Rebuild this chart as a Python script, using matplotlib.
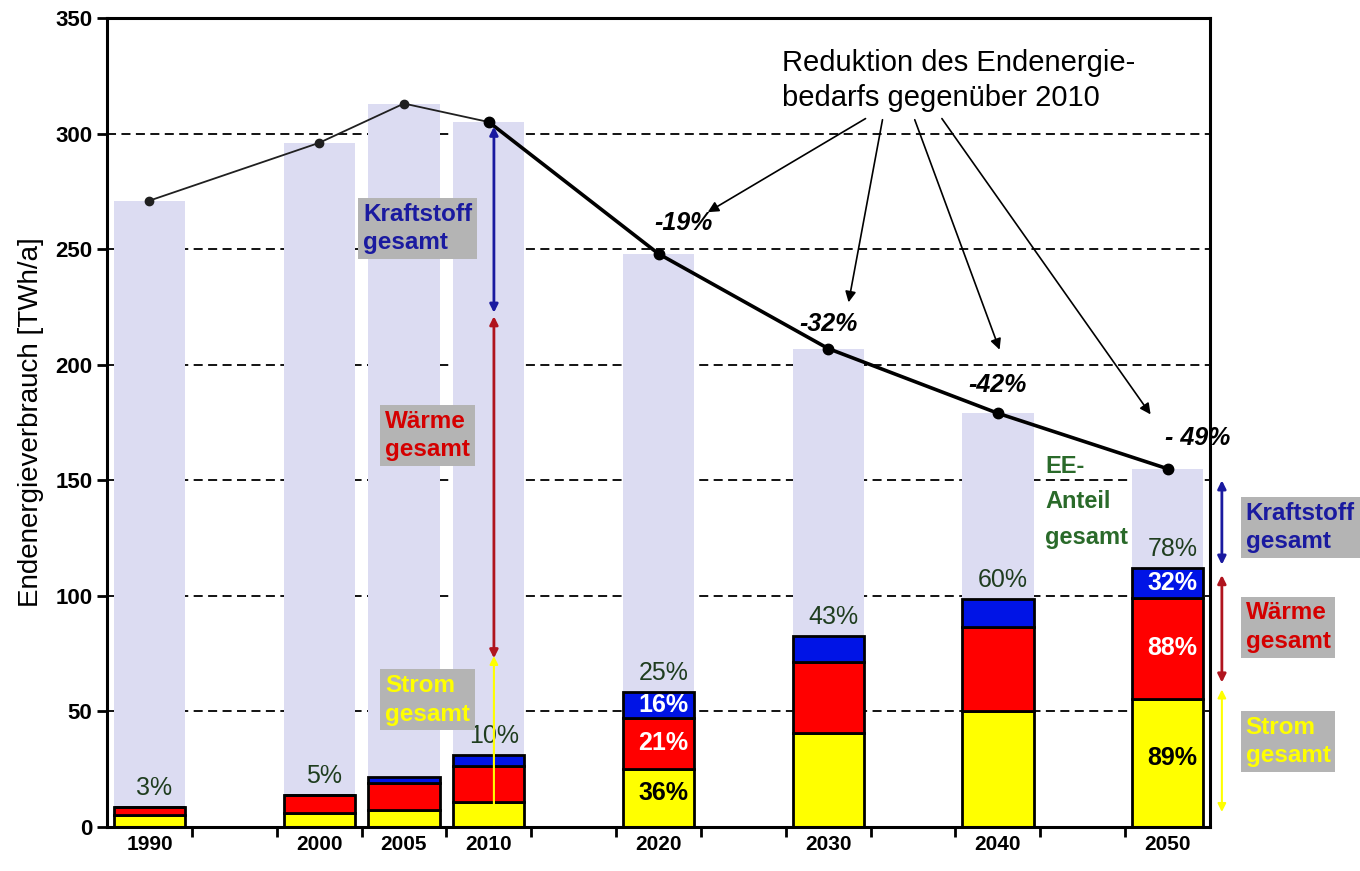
import matplotlib
matplotlib.use("Agg")
import matplotlib.pyplot as plt
import numpy as np

plt.rcParams['font.family'] = ['Liberation Sans', 'DejaVu Sans']

# --- data ---
years = [1990, 2000, 2005, 2010, 2020, 2030, 2040, 2050]
total = [271, 296, 313, 305, 248, 207, 179, 155]          # Endenergiebedarf gesamt
strom = [5.2, 5.9, 7.4, 10.7, 25.1, 40.7, 50.2, 55.6]     # EE Strom
waerme = [3.6, 7.9, 11.5, 15.7, 22.1, 30.7, 36.2, 43.6]   # EE Waerme
kraftstoff = [0, 0, 2.6, 4.8, 11.2, 11.2, 12.3, 12.7]     # EE Kraftstoff
ee_share = ['3%', '5%', '', '10%', '25%', '43%', '60%', '78%']
reduction_years = [2020, 2030, 2040, 2050]
reduction_labels = ['-19%', '-32%', '-42%', '- 49%']
segment_years = [2020, 2050]
segment_labels = [['36%', '21%', '16%'], ['89%', '88%', '32%']]

lavender = '#dcdcf2'
c_strom = '#ffff00'
c_waerme = '#ff0000'
c_kraft = '#0014e6'
green = '#1f3d1f'
box_gray = '#b4b4b4'


def main():
    fig = plt.figure(figsize=(13.6, 8.71), dpi=100)
    ax = fig.add_axes([0.0787, 0.0505, 0.811, 0.9288])

    w = 4.2
    yrs = np.array(years, dtype=float)
    s = np.array(strom)
    h = np.array(waerme)
    k = np.array(kraftstoff)

    # grid behind everything
    for g in range(50, 301, 50):
        ax.axhline(g, color='black', lw=1.3, ls=(0, (5, 3)), zorder=0.5)

    ax.bar(yrs, total, width=w, color=lavender, zorder=1)
    ax.bar(yrs, s, width=w, color=c_strom, edgecolor='black', lw=2, zorder=2)
    ax.bar(yrs, h, width=w, bottom=s, color=c_waerme, edgecolor='black', lw=2, zorder=2)
    ax.bar(yrs, k, width=w, bottom=s + h, color=c_kraft, edgecolor='black', lw=2, zorder=2)

    # total demand line
    ax.plot(yrs[:4], total[:4], color='#202020', lw=1.3, marker='o', ms=6, zorder=4)
    ax.plot(yrs[3:], total[3:], color='black', lw=2.6, marker='o', ms=7.5, zorder=4)

    # EE share labels above bars
    tops = s + h + k
    for x, t, lab in zip(yrs, tops, ee_share):
        if lab:
            ax.annotate(lab, (x + 0.3, t), xytext=(0, 5), textcoords='offset points',
                        ha='center', va='bottom', fontsize=18, color=green, zorder=5)

    # labels inside the 2020 and 2050 bars
    for yr, labs in zip(segment_years, segment_labels):
        i = years.index(yr)
        centers = [s[i] / 2 + 2, s[i] + h[i] / 2, s[i] + h[i] + k[i] / 2]
        cols = ['black', 'white', 'white']
        for c, lab, col in zip(centers, labs, cols):
            ax.text(yrs[i] + 0.3, c, lab, ha='center', va='center', fontsize=18,
                    fontweight='bold', color=col, zorder=5)

    # reduction labels near the line
    offs = [(18, 22), (0, 18), (0, 20), (22, 22)]
    for yr, lab, (dx, dy) in zip(reduction_years, reduction_labels, offs):
        i = years.index(yr)
        ax.annotate(lab, (yr, total[i]), xytext=(dx, dy), textcoords='offset points',
                    ha='center', va='center', fontsize=18, fontweight='bold',
                    fontstyle='italic', zorder=5)

    ax.text(2027.3, 323, 'Reduktion des Endenergie-\nbedarfs gegenüber 2010',
            ha='left', va='center', fontsize=21, linespacing=1.3, zorder=5)
    starts = [(2032.2, 306.5), (2033.2, 306), (2035.1, 306), (2036.7, 306.5)]
    ends = [(2022.9, 266), (2031.2, 227), (2040.1, 206.5), (2049.0, 178.5)]
    for st, en in zip(starts, ends):
        ax.annotate('', xy=en, xytext=st,
                    arrowprops=dict(arrowstyle='-|>', color='black', lw=1.2,
                                    mutation_scale=16, shrinkA=0, shrinkB=0), zorder=5)

    ax.text(2042.8, 161, 'EE-\nAnteil\ngesamt', ha='left', va='top', fontsize=17,
            fontweight='bold', color='#2a6a2a', linespacing=1.7, zorder=5)

    # double arrows and boxes
    def darrow(x, y0, y1, col, lw=2):
        ax.annotate('', xy=(x, y1), xytext=(x, y0), annotation_clip=False,
                    arrowprops=dict(arrowstyle='<|-|>', color=col, lw=lw,
                                    mutation_scale=12, shrinkA=0, shrinkB=0), zorder=6)

    def box(x, y, txt, col):
        ax.text(x, y, txt, ha='left', va='center', fontsize=17.5, fontweight='bold',
                color=col, linespacing=1.3, zorder=6, clip_on=False,
                bbox=dict(boxstyle='square,pad=0.2', fc=box_gray, ec='none'))

    darrow(2010.3, 222.5, 303, '#1a1aa0')
    darrow(2010.3, 73, 221, '#b0141e')
    darrow(2010.3, 0, 74, '#ffff00', lw=1.5)
    box(2002.6, 259, 'Kraftstoff\ngesamt', '#1a1aa0')
    box(2003.9, 169.5, 'Wärme\ngesamt', '#d40000')
    box(2003.9, 55, 'Strom\ngesamt', '#ffff00')

    darrow(2053.2, 113.5, 150, '#1a1aa0')
    darrow(2053.2, 62.5, 109, '#b0141e')
    darrow(2053.2, 6.5, 59.5, '#ffff00', lw=1.5)
    box(2054.6, 129.5, 'Kraftstoff\ngesamt', '#1a1aa0')
    box(2054.6, 86.5, 'Wärme\ngesamt', '#d40000')
    box(2054.6, 37, 'Strom\ngesamt', '#ffff00')

    # axes
    ax.set_xlim(1987.5, 2052.5)
    ax.set_ylim(0, 350)
    ax.set_yticks(np.arange(0, 351, 50))
    ax.set_xticks(years)
    ax.set_xticklabels([str(y) for y in years])
    ax.set_xticks(np.arange(1992.5, 2050, 5), minor=True)
    ax.tick_params(axis='x', which='major', length=0, pad=6, labelsize=15)
    ax.tick_params(axis='x', which='minor', length=7, width=2, direction='out')
    ax.tick_params(axis='y', length=7, width=2, direction='out', labelsize=16)
    for lab in ax.get_xticklabels() + ax.get_yticklabels():
        lab.set_fontweight('bold')
    for sp in ax.spines.values():
        sp.set_linewidth(2.2)
    ax.set_ylabel('Endenergieverbrauch [TWh/a]', fontsize=20, labelpad=8)

    plt.savefig('out.png', dpi=100)
    plt.close()


if __name__ == '__main__':
    main()
